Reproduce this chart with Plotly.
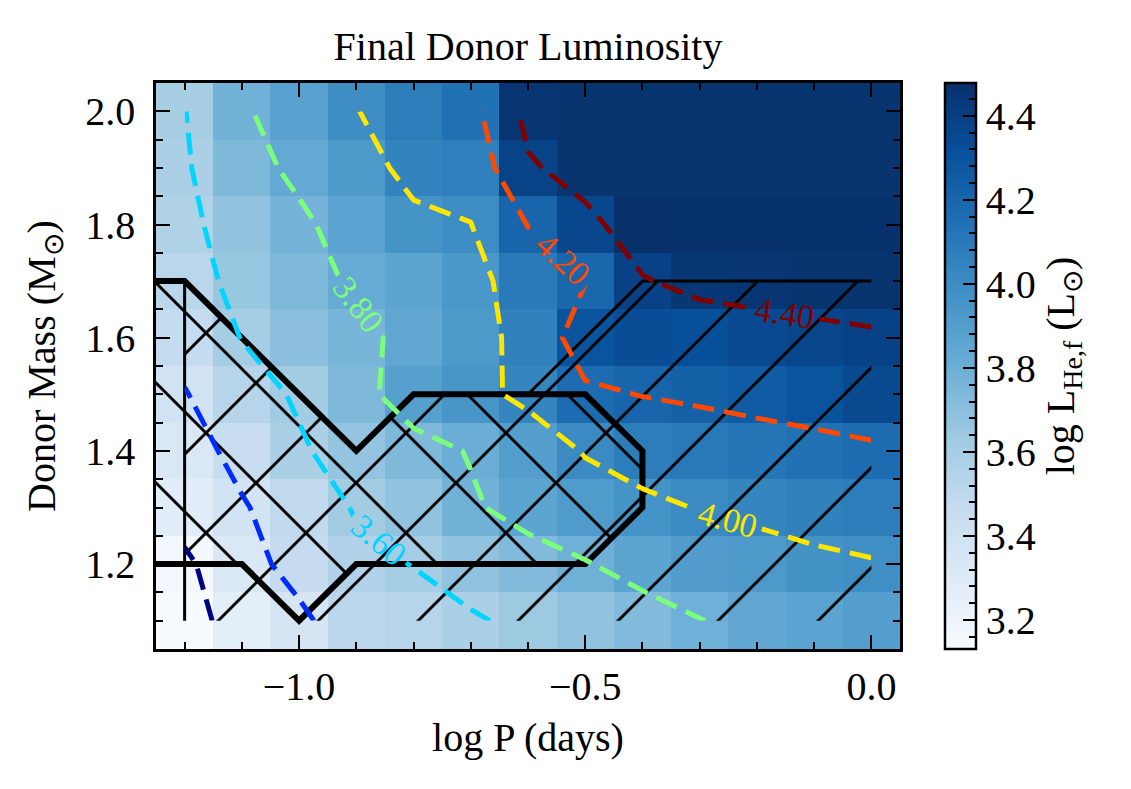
import plotly.graph_objects as go

# ---------------- data ----------------
log_p = [-1.2, -1.1, -1.0, -0.9, -0.8, -0.7, -0.6, -0.5, -0.4, -0.3, -0.2, -0.1, 0.0]
donor_mass = [1.1, 1.2, 1.3, 1.4, 1.5, 1.6, 1.7, 1.8, 1.9, 2.0]

lum_m110 = [3.135, 3.27, 3.36, 3.514, 3.53, 3.58, 3.64, 3.68, 3.732, 3.795, 3.845, 3.87, 3.90]
lum_m120 = [3.167, 3.33, 3.465, 3.555, 3.605, 3.68, 3.73, 3.79, 3.86, 3.91, 3.926, 3.969, 3.99]
lum_m130 = [3.277, 3.385, 3.49, 3.615, 3.68, 3.78, 3.86, 3.92, 3.96, 4.008, 4.04, 4.06, 4.08]
lum_m140 = [3.33, 3.45, 3.58, 3.67, 3.74, 3.81, 3.90, 4.011, 4.08, 4.10, 4.12, 4.14, 4.165]
lum_m150 = [3.39, 3.53, 3.62, 3.74, 3.89, 3.95, 4.04, 4.17, 4.205, 4.228, 4.258, 4.294, 4.35]
lum_m160 = [3.47, 3.605, 3.70, 3.76, 3.845, 3.93, 4.06, 4.293, 4.33, 4.318, 4.348, 4.368, 4.386]
lum_m170 = [3.52, 3.655, 3.74, 3.823, 3.86, 3.94, 4.094, 4.195, 4.39, 4.44, 4.45, 4.46, 4.46]
lum_m180 = [3.56, 3.68, 3.77, 3.87, 3.962, 3.997, 4.205, 4.36, 4.478, 4.47, 4.47, 4.47, 4.47]
lum_m190 = [3.58, 3.74, 3.835, 3.93, 4.05, 4.07, 4.38, 4.46, 4.46, 4.46, 4.46, 4.46, 4.46]
lum_m200 = [3.595, 3.78, 3.88, 3.995, 4.08, 4.14, 4.45, 4.46, 4.46, 4.46, 4.46, 4.46, 4.46]

contour_levels = [3.2, 3.4, 3.6, 3.8, 4.0, 4.2, 4.4]
cbar_major = [3.2, 3.4, 3.6, 3.8, 4.0, 4.2, 4.4]
cbar_minor = [round(3.16 + 0.04 * k, 2) for k in range(0, 33)]

# region with "\\" hatching, thick outline
region_c_x = [-1.3, -1.2, -0.9, -0.8, -0.5, -0.4, -0.4, -0.5, -0.9, -1.0, -1.1, -1.3, -1.3]
region_c_y = [1.7, 1.7, 1.4, 1.5, 1.5, 1.4, 1.3, 1.2, 1.2, 1.1, 1.2, 1.2, 1.7]
# region with "/" hatching
region_s_x = [-1.2, -1.2, -0.9, -0.8, -0.6, -0.4, 0.0, 0.0, -1.2]
region_s_y = [1.1, 1.7, 1.4, 1.5, 1.5, 1.7, 1.7, 1.1, 1.1]
# visible thin edges of the "/" region
edge_s_x = [-1.2, -1.2, None, -0.6, -0.4, 0.0]
edge_s_y = [1.1, 1.7, None, 1.5, 1.7, 1.7]

# ---------------- styling ----------------
FONT = "Liberation Serif"
z = [lum_m110, lum_m120, lum_m130, lum_m140, lum_m150,
     lum_m160, lum_m170, lum_m180, lum_m190, lum_m200]

blues = [[0.0, "#f7fbff"], [0.125, "#deebf7"], [0.25, "#c6dbef"], [0.375, "#9ecae1"],
         [0.5, "#6baed6"], [0.625, "#4292c6"], [0.75, "#2171b5"], [0.875, "#08519c"],
         [1.0, "#08306b"]]
jet7 = [[0.0, "#000080"], [1 / 6, "#002bff"], [2 / 6, "#00d4ff"], [3 / 6, "#7bff7b"],
        [4 / 6, "#ffe600"], [5 / 6, "#ff4800"], [1.0, "#800000"]]
clear = [[0.0, "rgba(0,0,0,0)"], [1.0, "rgba(0,0,0,0)"]]
ZMIN, ZMAX = 3.131, 4.478
CB_X = (945 - 156) / 744

fig = go.Figure()

# heatmap with minor colorbar ticks
fig.add_trace(go.Heatmap(
    x=log_p, y=donor_mass, z=z, colorscale=blues, zmin=ZMIN, zmax=ZMAX,
    hoverinfo="skip",
    colorbar=dict(x=CB_X, xanchor="left", xpad=0, ypad=0, y=0.5, yanchor="middle",
                  len=1, lenmode="fraction", thickness=31, outlinewidth=0,
                  tickmode="array", tickvals=cbar_minor, ticks="inside", ticklen=7,
                  tickwidth=1.8, tickcolor="black", showticklabels=False),
))
# transparent twin carrying the major ticks, labels and title of the colour bar
fig.add_trace(go.Heatmap(
    x=log_p, y=donor_mass, z=z, colorscale=clear, zmin=ZMIN, zmax=ZMAX,
    hoverinfo="skip",
    colorbar=dict(x=CB_X, xanchor="left", xpad=0, ypad=0, y=0.5, yanchor="middle",
                  len=1, lenmode="fraction", thickness=31, outlinewidth=2.5,
                  outlinecolor="black",
                  tickmode="array", tickvals=cbar_major, tickformat=".1f",
                  ticks="inside", ticklen=14, tickwidth=2, tickcolor="black",
                  tickfont=dict(family=FONT, size=40, color="black"),
                  title=dict(text="log L<sub>He,f</sub> (L<sub>⊙</sub>)", side="right",
                             font=dict(family=FONT, size=40, color="black"))),
))

# hatched regions
fig.add_trace(go.Scatter(
    x=region_s_x, y=region_s_y, mode="lines", fill="toself",
    fillcolor="rgba(0,0,0,0)", line=dict(width=0, color="rgba(0,0,0,0)"),
    fillpattern=dict(shape="/", size=70.7, solidity=0.042, fgcolor="black",
                     bgcolor="rgba(0,0,0,0)", fgopacity=1),
    hoverinfo="skip", showlegend=False))
fig.add_trace(go.Scatter(
    x=region_c_x, y=region_c_y, mode="lines", fill="toself",
    fillcolor="rgba(0,0,0,0)", line=dict(width=6, color="black"),
    fillpattern=dict(shape="\\", size=70.7, solidity=0.042, fgcolor="black",
                     bgcolor="rgba(0,0,0,0)", fgopacity=1),
    hoverinfo="skip", showlegend=False))
fig.add_trace(go.Scatter(
    x=edge_s_x, y=edge_s_y, mode="lines", line=dict(width=3, color="black"),
    hoverinfo="skip", showlegend=False))

# contour lines on an overlaid subplot so they sit above the hatching
fig.add_trace(go.Contour(
    x=log_p, y=donor_mass, z=z, xaxis="x2", yaxis="y2",
    autocontour=False,
    contours=dict(start=contour_levels[0], end=contour_levels[-1] + 0.01, size=0.2,
                  coloring="lines", showlabels=True, labelformat=".2f",
                  labelfont=dict(family=FONT, size=34)),
    colorscale=jet7, showscale=False,
    line=dict(width=5, dash="22px,10px", smoothing=0),
    hoverinfo="skip"))

tickfont = dict(family=FONT, size=40, color="black")
axis_common = dict(ticks="inside", ticklen=14, tickwidth=2, tickcolor="black",
                   showline=True, linewidth=2.5, linecolor="black", mirror="allticks",
                   showgrid=False, zeroline=False, tickfont=tickfont, automargin=False)

fig.update_layout(
    width=1131, height=789,
    margin=dict(l=156, r=231, t=83, b=140),
    paper_bgcolor="white", plot_bgcolor="white",
    showlegend=False,
    font=dict(family=FONT, color="black"),
    title=dict(text="Final Donor Luminosity", x=0.5, xref="paper", xanchor="center",
               y=1 - 46 / 789, yref="container", yanchor="middle",
               font=dict(family=FONT, size=40, color="black")),
    xaxis=dict(range=[-1.25, 0.05], tick0=0, dtick=0.5, tickformat=".1f",
               minor=dict(dtick=0.1, tick0=0, ticks="inside", ticklen=7, tickwidth=1.8,
                          tickcolor="black", showgrid=False),
               ticklabelstandoff=0,
               title=dict(text="log P (days)", standoff=16,
                          font=dict(family=FONT, size=40, color="black")),
               **axis_common),
    yaxis=dict(range=[1.05, 2.05], tick0=0, dtick=0.2, tickformat=".1f",
               minor=dict(dtick=0.05, tick0=0, ticks="inside", ticklen=7, tickwidth=1.8,
                          tickcolor="black", showgrid=False),
               ticklabelstandoff=10,
               title=dict(text="Donor Mass (M<sub>⊙</sub>)", standoff=18,
                          font=dict(family=FONT, size=40, color="black")),
               **axis_common),
    xaxis2=dict(range=[-1.25, 0.05], overlaying="x", visible=False),
    yaxis2=dict(range=[1.05, 2.05], overlaying="y", visible=False),
)

fig.write_html("out.html")
